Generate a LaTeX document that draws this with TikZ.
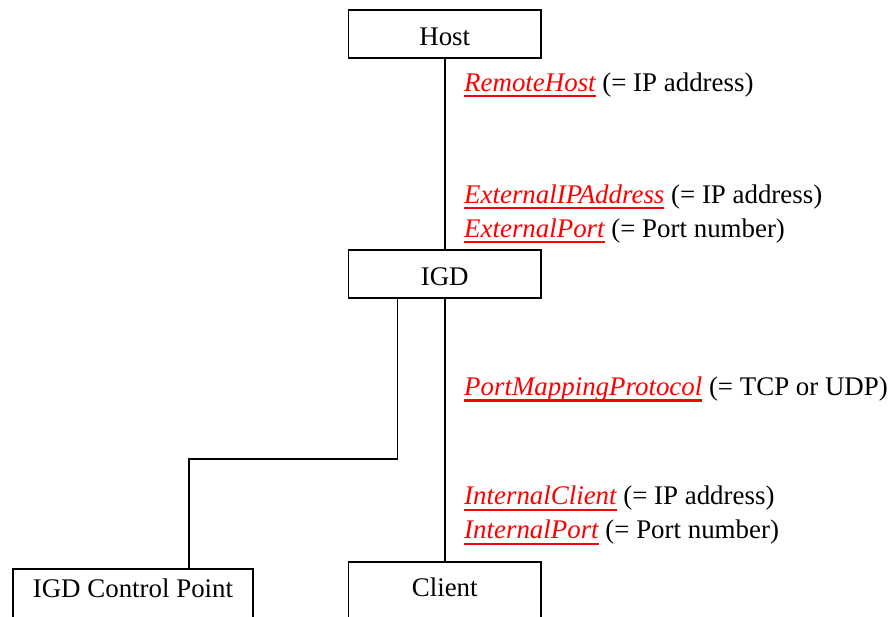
\documentclass[tikz,border=0pt]{standalone}
\usepackage{fontspec}
\setmainfont{Liberation Serif}
\newcommand{\param}[1]{{\color{red}\sbox0{\itshape #1}\usebox0\llap{\color{red}\rule[-6pt]{\wd0}{2.2pt}}}}
\begin{document}
\begin{tikzpicture}[x={(1pt,0)},y={(0,-1pt)},
  every node/.style={font=\fontsize{26.9}{33}\selectfont},
  box/.style={draw, line width=1.8pt, inner sep=0pt, minimum width=192.5pt, minimum height=48pt, text height=22.6pt, text depth=0pt},
  lowbox/.style={draw, line width=1.8pt, inner sep=0pt, text height=5pt, text depth=5pt},
  conn/.style={line width=1.8pt},
  lbl/.style={anchor=base west, inner sep=0pt}]
\useasboundingbox (0,0) rectangle (888,616);
\node[box] (host) at (444.75,33.7) {Host};
\node[box] (igd) at (444.75,273.8) {IGD};
\node[lowbox, minimum width=192.5pt, minimum height=69.4pt] (client) at (444.75,596.7) {Client};
\node[lowbox, minimum width=240.6pt, minimum height=56.6pt] (cp) at (133,597.3) {IGD Control Point};
\coordinate (bend) at (189.3,458.6);
\draw[conn] (host.south) -- (igd.north);
\draw[conn] (igd.south) -- (client.north);
\draw[conn] ([xshift=-47.2pt]igd.south) |- (bend) -- (bend |- cp.north);
\node[lbl] (l1) at (464,91.2) {\param{RemoteHost} (= IP address)};
\node[lbl] (l2) at (464,203.2) {\param{ExternalIPAddress} (= IP address)};
\node[lbl] (l3) at (464,237.2) {\param{ExternalPort} (= Port number)};
\node[lbl] (l4) at (464,395.5) {\param{PortMappingProtocol} (= TCP or UDP)};
\node[lbl] (l5) at (464,504.8) {\param{InternalClient} (= IP address)};
\node[lbl] (l6) at (464,538.8) {\param{InternalPort} (= Port number)};
\end{tikzpicture}
\end{document}
